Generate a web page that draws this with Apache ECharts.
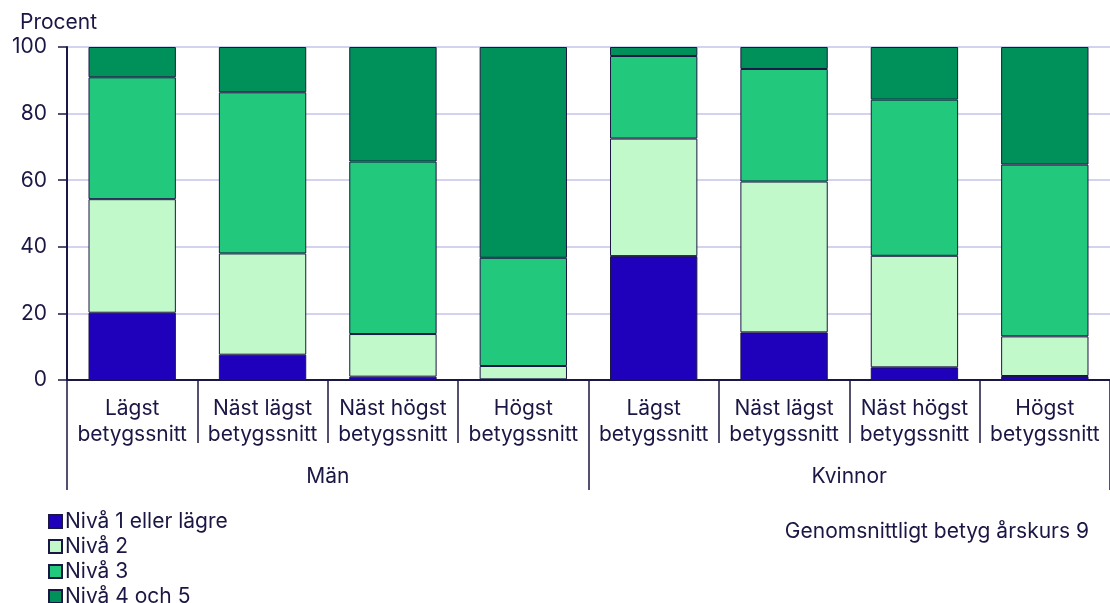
<!DOCTYPE html>
<html>
<head>
<meta charset="utf-8">
<script src="https://cdn.jsdelivr.net/npm/echarts@6/dist/echarts.min.js"></script>
<style>
  html, body { margin: 0; padding: 0; background: #fff; }
  #main { width: 1110px; height: 603px; }
</style>
</head>
<body>
<div id="main"></div>
<script>
// kategorier (nivå 1 och 2 på x-axeln)
const categories = ["Lägst\nbetygssnitt", "Näst lägst\nbetygssnitt", "Näst högst\nbetygssnitt", "Högst\nbetygssnitt",
                    "Lägst\nbetygssnitt", "Näst lägst\nbetygssnitt", "Näst högst\nbetygssnitt", "Högst\nbetygssnitt"]
const groups = ["Män", "Kvinnor"]
const yTicks = [0, 20, 40, 60, 80, 100]

// andel i procent per nivå
const niva1 = [20.2, 7.6, 1.0, 0.2, 37.2, 14.3, 3.8, 1.2]
const niva2 = [34.1, 30.4, 12.8, 4.0, 35.3, 45.3, 33.5, 11.9]
const niva3 = [36.6, 48.4, 51.8, 32.5, 24.8, 33.8, 46.9, 51.6]
const niva45 = [9.1, 13.6, 34.4, 63.3, 2.7, 6.6, 15.8, 35.3]

const seriesNames = ["Nivå 1 eller lägre", "Nivå 2", "Nivå 3", "Nivå 4 och 5"]
const colors = ["#1f00bb", "#c1f9cb", "#22c97d", "#00915a"]

const ink = "#1b1744"
const font = "Inter"
const fs = 21

var myChart = echarts.init(document.getElementById('main'));

function bar(name, data, i) {
    return {
        name: name,
        type: 'bar',
        stack: 'total',
        barWidth: '67%',
        data: data,
        itemStyle: { color: colors[i], borderColor: ink, borderWidth: 1 }
    }
}

var option = {
    animation: false,
    textStyle: { fontFamily: font, color: ink },
    title: [
        { text: 'Procent', left: 15, top: 7, textStyle: { fontFamily: font, fontSize: fs, fontWeight: 'normal', color: ink } },
        { text: 'Genomsnittligt betyg årskurs 9', right: 16, top: 516, textStyle: { fontFamily: font, fontSize: fs, fontWeight: 'normal', color: ink } }
    ],
    legend: {
        orient: 'vertical',
        left: 48,
        top: 511,
        height: 100,
        padding: 0,
        itemWidth: 13,
        itemHeight: 13,
        itemGap: 4,
        icon: 'rect',
        textStyle: { fontFamily: font, fontSize: fs, lineHeight: 20, color: ink, padding: [0, 0, 0, -2] },
        data: seriesNames
    },
    grid: { left: 67, top: 47, right: -9, bottom: 223 },
    xAxis: [
        {
            type: 'category',
            data: categories,
            axisLine: { lineStyle: { color: ink, width: 2 } },
            axisTick: { show: true, interval: 0, length: 63, lineStyle: { color: ink, width: 1.5 } },
            axisLabel: { interval: 0, margin: 16, fontSize: fs, lineHeight: 26, color: ink, fontFamily: font }
        },
        {
            type: 'category',
            position: 'bottom',
            data: groups,
            axisLine: { show: false },
            axisTick: { show: true, interval: 0, length: 110, lineStyle: { color: ink, width: 1.5 } },
            axisLabel: { interval: 0, margin: 86, fontSize: fs, color: ink, fontFamily: font }
        }
    ],
    yAxis: {
        type: 'value',
        min: yTicks[0],
        max: yTicks[yTicks.length - 1],
        interval: 20,
        axisLine: { show: true, lineStyle: { color: ink, width: 2 } },
        axisTick: { show: true, length: 9, lineStyle: { color: ink, width: 1.5 } },
        axisLabel: { margin: 20, fontSize: fs, color: ink, fontFamily: font },
        splitLine: { lineStyle: { color: '#d3d3f0', width: 2 } }
    },
    series: [
        bar(seriesNames[0], niva1, 0),
        bar(seriesNames[1], niva2, 1),
        bar(seriesNames[2], niva3, 2),
        bar(seriesNames[3], niva45, 3)
    ]
};

myChart.setOption(option);
</script>
</body>
</html>
